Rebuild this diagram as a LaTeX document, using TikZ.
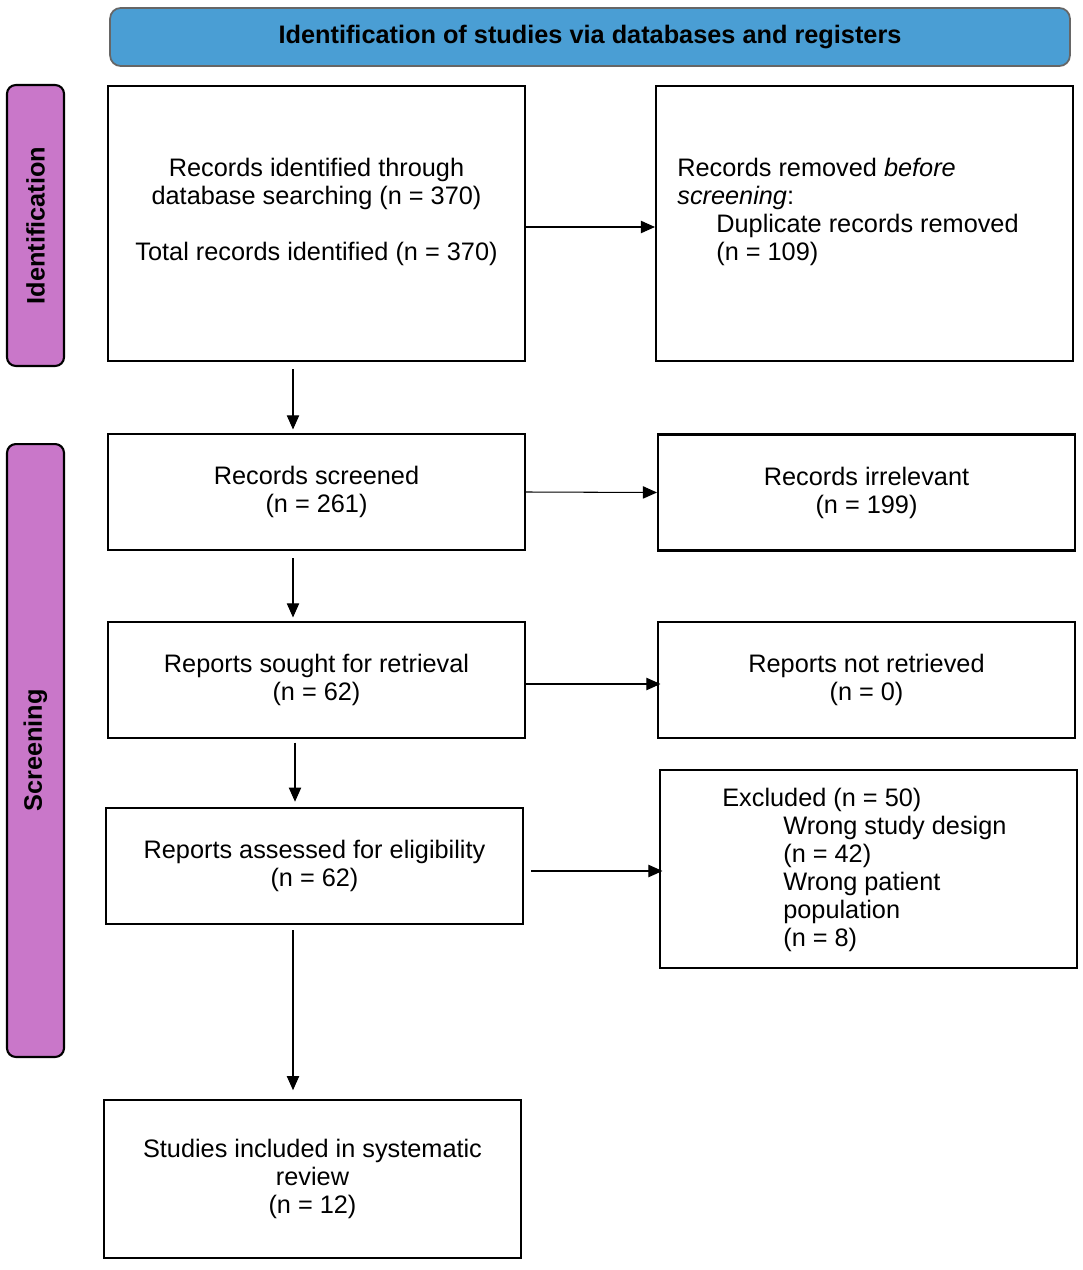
\documentclass[tikz,border=0pt]{standalone}
\usepackage{fontspec}
\setmainfont{Liberation Sans}
\usetikzlibrary{arrows.meta}
\definecolor{bannerblue}{HTML}{4A9ED4}
\definecolor{sidepink}{HTML}{C977C9}
\begin{document}
\begin{tikzpicture}[x=0.02cm, y=-0.02cm,
    font=\fontsize{14.4}{15.9}\selectfont,
    box/.style={draw, line width=1.2pt, minimum width=8.34cm, minimum height=2.32cm, align=center, inner sep=0pt},
    side/.style={draw, line width=1.2pt, rounded corners=5pt, fill=sidepink, minimum width=1.14cm, inner sep=0pt},
    flow/.style={-{Triangle[length=8pt,width=7pt]}, line width=0.6pt}]
    \useasboundingbox (0,0) rectangle (1082,1270);

    % banner and side labels
    \node[draw=black!60, line width=1pt, rounded corners=6pt, fill=bannerblue, minimum width=19.2cm, minimum height=1.16cm, font=\fontsize{14.4}{15}\selectfont\bfseries] (banner) at (590,37) {Identification of studies via databases and registers};
    \node[side, minimum height=5.62cm] (ident) at (35.5,225.5) {};
    \node[rotate=90, font=\fontsize{14.4}{15}\selectfont\bfseries] at (ident) {Identification};
    \node[side, minimum height=12.26cm] (screen) at (35.5,750.5) {};
    \node[rotate=90, font=\fontsize{14.4}{15}\selectfont\bfseries] at (screen) {Screening};

    % main column
    \node[box, minimum height=5.5cm] (found) at (316.5,223.5) {Records identified through\\database searching (n = 370)\\[\baselineskip]Total records identified (n = 370)\\\mbox{}};
    \node[box] (screened) at (316.5,492) {Records screened\\(n = 261)};
    \node[box] (sought) at (316.5,680) {Reports sought for retrieval\\(n = 62)};
    \node[box] (assessed) at (314.5,866) {Reports assessed for eligibility\\(n = 62)};
    \node[box, minimum height=3.16cm] (included) at (312.5,1179) {Studies included in systematic\\review\\(n = 12)};

    % side column
    \node[box, minimum height=5.5cm] (removed) at (864.5,223.5) {};
    \node[anchor=north west, align=left, inner sep=0pt] at (677,158) {Records removed \emph{before}\\\emph{screening}:\\\hspace{0.78cm}Duplicate records removed\\\hspace{0.78cm}(n = 109)};
    \node[box] (irrelevant) at (866.5,492.5) {Records irrelevant\\(n = 199)};
    \node[box] (notret) at (866.5,680) {Reports not retrieved\\(n = 0)};
    \node[box, minimum height=3.96cm] (excluded) at (868.5,869) {};
    \node[anchor=north west, align=left, inner sep=0pt] at (722,788) {Excluded (n = 50)\\\hspace{1.22cm}Wrong study design\\\hspace{1.22cm}(n = 42)\\\hspace{1.22cm}Wrong patient\\\hspace{1.22cm}population\\\hspace{1.22cm}(n = 8)};

    % arrows
    \draw[flow] (found.east |- 0,227) -- (removed.west |- 0,227);
    \draw[flow] (screened.east) -- (irrelevant.west);
    \draw[flow, shorten >=-2pt] (sought.east |- 0,684) -- (notret.west |- 0,684);
    \draw[flow, shorten <=4pt, shorten >=-2pt] (assessed.east |- 0,871) -- (excluded.west |- 0,871);
    \draw[flow, shorten <=4pt, shorten >=2pt] (found.south -| 293,0) -- (screened.north -| 293,0);
    \draw[flow, shorten <=4pt, shorten >=2pt] (screened.south -| 293,0) -- (sought.north -| 293,0);
    \draw[flow, shorten <=2pt, shorten >=3pt] (sought.south -| 295,0) -- (assessed.north -| 295,0);
    \draw[flow, shorten <=3pt, shorten >=5pt] (assessed.south -| 293,0) -- (included.north -| 293,0);
\end{tikzpicture}
\end{document}
